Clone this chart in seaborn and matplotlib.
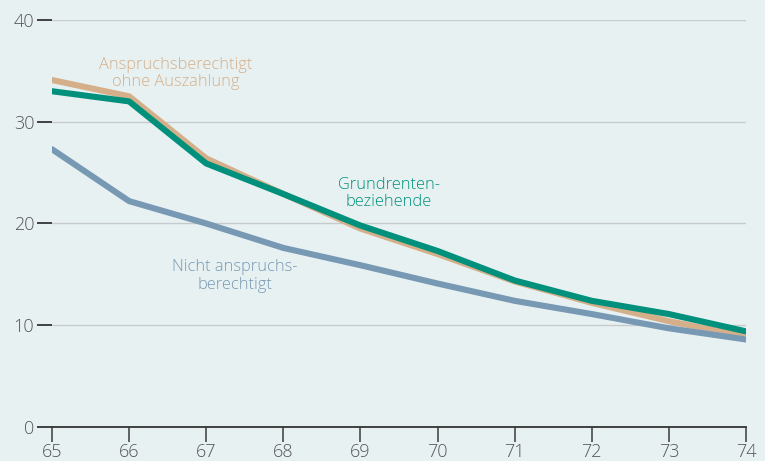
import numpy as np
import pandas as pd
import matplotlib
matplotlib.use("Agg")
import matplotlib.pyplot as plt
import seaborn as sns

# --- data ---
ages = [65, 66, 67, 68, 69, 70, 71, 72, 73, 74]
ohne_auszahlung = [34.1, 32.5, 26.4, 22.9, 19.5, 17.0, 14.3, 12.2, 10.4, 8.9]
nicht_berechtigt = [27.3, 22.2, 20.0, 17.6, 15.9, 14.1, 12.4, 11.1, 9.7, 8.6]
grundrente = [33.0, 32.0, 25.9, 22.9, 19.8, 17.3, 14.4, 12.4, 11.1, 9.4]

series_names = ["Anspruchsberechtigt\nohne Auszahlung",
                "Nicht anspruchs-\nberechtigt",
                "Grundrenten-\nbeziehende"]
series_colors = ["#D5AF89", "#7799B4", "#00907B"]
label_pos = [(66.6, 34.75), (67.37, 14.85), (69.37, 22.95)]
y_ticks = [0, 10, 20, 30, 40]

df = pd.DataFrame({
    "age": ages * 3,
    "value": ohne_auszahlung + nicht_berechtigt + grundrente,
    "group": np.repeat(series_names, len(ages)),
})

# --- style ---
bg = "#E8F1F2"
sns.set_theme(style="white")
plt.rcParams["font.family"] = ["Open Sans", "DejaVu Sans"]

fig = plt.figure(figsize=(7.65, 4.61), dpi=100, facecolor=bg)
ax = fig.add_axes([52 / 765, 1 - 427 / 461, (746 - 52) / 765, (427 - 20) / 461])
ax.set_facecolor(bg)

sns.lineplot(data=df, x="age", y="value", hue="group", hue_order=series_names,
             palette=series_colors, linewidth=4.4, legend=False, ax=ax,
             solid_capstyle="round", solid_joinstyle="round", zorder=3)

# inline labels instead of a legend
for name, col, (x, y) in zip(series_names, series_colors, label_pos):
    ax.text(x, y, name, color=col, fontsize=11.8, ha="center", va="center",
            linespacing=1.12, fontweight="light")

ax.set_xlim(65, 74)
ax.set_ylim(0, 40)
ax.set_xticks(ages)
ax.set_yticks(y_ticks)
ax.set_xlabel("")
ax.set_ylabel("")

for g in y_ticks[1:]:
    ax.axhline(g, color="#C6CBCD", linewidth=1.0, zorder=1)

for s in ["top", "right", "left"]:
    ax.spines[s].set_visible(False)
ax.spines["bottom"].set_color("#333333")
ax.spines["bottom"].set_linewidth(1.3)
ax.spines["bottom"].set_zorder(4)

ax.tick_params(axis="y", length=10.8, width=1.3, color="#333333", pad=2,
               labelsize=13, labelcolor="#555555", left=True)
ax.tick_params(axis="x", length=10.6, width=1.3, color="#555555", pad=1,
               labelsize=13, labelcolor="#555555", bottom=True)
for lab in ax.get_xticklabels() + ax.get_yticklabels():
    lab.set_fontweight("light")

fig.savefig("out.png", dpi=100, facecolor=bg)
